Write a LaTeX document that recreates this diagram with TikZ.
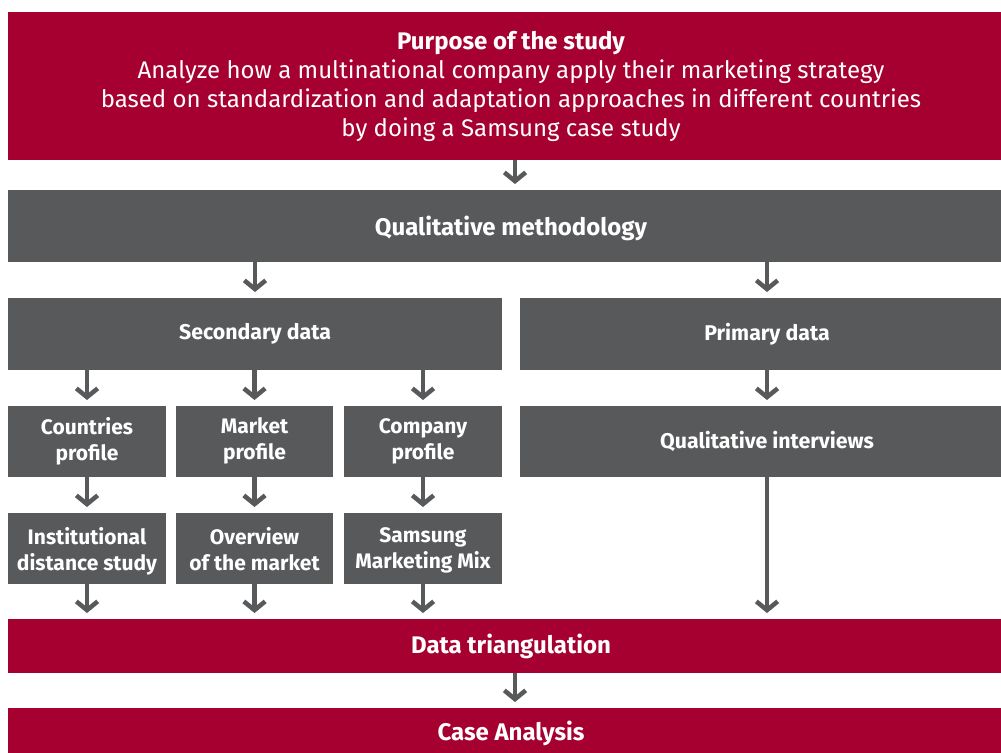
\documentclass[tikz,border=0pt]{standalone}
\usepackage{fontspec}
\setmainfont{Fira Sans}
\usetikzlibrary{arrows.meta}
\definecolor{brandred}{HTML}{A60030}
\definecolor{slate}{HTML}{58595B}
\newcommand{\purposebody}{\fontsize{18pt}{21.75pt}\selectfont\mdseries}
\begin{document}
\begin{tikzpicture}[x=0.75pt,y=-0.75pt,
  box/.style={rectangle,inner sep=0pt,outer sep=0pt,text=white,align=center},
  redbox/.style={box,fill=brandred,font=\fontsize{18pt}{21.75pt}\selectfont\bfseries},
  headbox/.style={box,fill=slate,text depth=0pt,font=\fontsize{18pt}{21.75pt}\selectfont\bfseries},
  midbox/.style={box,fill=slate,font=\fontsize{16pt}{19.5pt}\selectfont\bfseries},
  smallbox/.style={box,fill=slate,text depth=0pt,font=\fontsize{15.75pt}{19.5pt}\selectfont\bfseries},
  upperrow/.style={smallbox,text depth=4pt},
  arr/.style={draw=slate,line width=3.4pt,shorten >=4.5pt,
    -{Straight Barb[length=6.5pt,width=16pt,line cap=butt,line join=miter]}}]
\useasboundingbox (0,0) rectangle (1001,753);
% column guide for the arrows on the main axis
\coordinate (mcol) at (515,0);
% boxes (the full-width and right-hand boxes run past the right page edge)
\node[redbox,minimum width=754.5pt,minimum height=111pt] (purpose) at (511,86)
  {Purpose of the study\\
   \purposebody Analyze how a multinational company apply their marketing strategy\\
   \purposebody based on standardization and adaptation approaches in different countries\\
   \purposebody by doing a Samsung case study};
\node[headbox,minimum width=754.5pt,minimum height=54pt] (meth) at (511,226) {Qualitative methodology};
\node[midbox,minimum width=370.5pt,minimum height=54pt] (sec) at (255,334) {Secondary data};
\node[midbox,minimum width=370.5pt,minimum height=54pt] (prim) at (767,334) {Primary data};
\node[upperrow,minimum width=118.5pt,minimum height=53.25pt] (c1) at (87,441.5) {Countries\\profile};
\node[upperrow,minimum width=117.75pt,minimum height=53.25pt] (c2) at (254.5,441.5) {Market\\profile};
\node[upperrow,minimum width=118.5pt,minimum height=53.25pt] (c3) at (423,441.5) {Company\\profile};
\node[midbox,minimum width=370.5pt,minimum height=53.25pt] (intv) at (767,441.5) {Qualitative interviews};
\node[smallbox,minimum width=118.5pt,minimum height=53.25pt] (d1) at (87,548.5) {Institutional\\distance study};
\node[smallbox,minimum width=117.75pt,minimum height=53.25pt] (d2) at (254.5,548.5) {Overview\\of the market};
\node[smallbox,minimum width=118.5pt,minimum height=53.25pt] (d3) at (423,548.5) {Samsung\\Marketing Mix};
\node[redbox,minimum width=754.5pt,minimum height=40.5pt] (tri) at (511,646) {Data triangulation};
\node[redbox,minimum width=754.5pt,minimum height=37.5pt] (case) at (511,733) {Case Analysis};
% connectors
\draw[arr] (purpose.south -| mcol) -- (meth.north -| mcol);
\draw[arr] (meth.south -| sec) -- (sec.north);
\draw[arr] (meth.south -| prim) -- (prim.north);
\draw[arr] (sec.south -| c1) -- (c1.north);
\draw[arr] (sec.south -| c2) -- (c2.north);
\draw[arr] (sec.south -| c3) -- (c3.north);
\draw[arr] (prim) -- (intv);
\draw[arr] (c1) -- (d1);
\draw[arr] (c2) -- (d2);
\draw[arr] (c3) -- (d3);
\draw[arr] (d1.south) -- (tri.north -| d1);
\draw[arr] (d2.south) -- (tri.north -| d2);
\draw[arr] (d3.south) -- (tri.north -| d3);
\draw[arr] (intv.south) -- (tri.north -| intv);
\draw[arr] (tri.south -| mcol) -- (case.north -| mcol);
\end{tikzpicture}
\end{document}
